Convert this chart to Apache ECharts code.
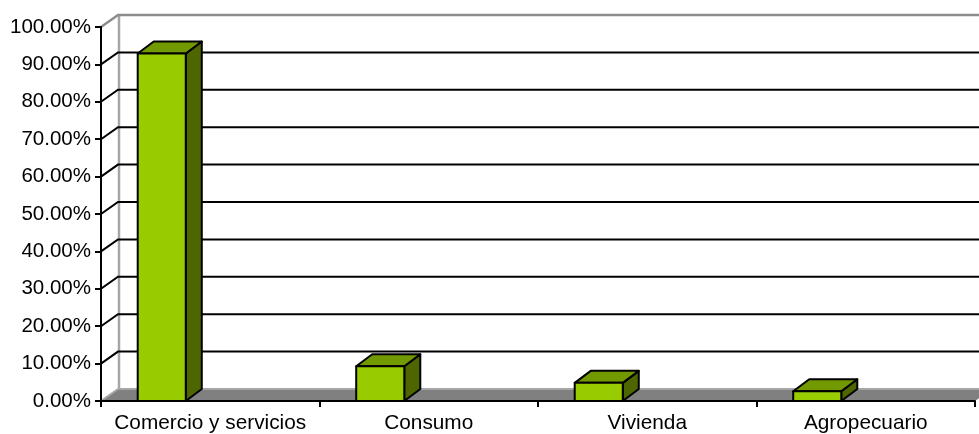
<!DOCTYPE html>
<html>
<head>
<meta charset="utf-8">
<script src="https://cdn.jsdelivr.net/npm/echarts@6/dist/echarts.min.js"></script>
<style>html,body{margin:0;padding:0;background:#fff;}#c{width:979px;height:434px;}</style>
</head>
<body>
<div id="c"></div>
<script>
const categories = ['Comercio y servicios', 'Consumo', 'Vivienda', 'Agropecuario'];
const values = [92.9, 9.3, 4.85, 2.6];
const yTicks = [0, 10, 20, 30, 40, 50, 60, 70, 80, 90, 100];

const DX = 17, DY = 12;       // wall/floor depth offset
const BDX = 16, BDY = 12;     // bar depth offset
const FONT = 'Liberation Sans, Arial, sans-serif';

const chart = echarts.init(document.getElementById('c'), null, {renderer: 'canvas'});

function wallItem(params, api) {
  const cs = params.coordSys;
  const v = api.value(0);
  const y = api.coord([0, v])[1];
  const x0 = cs.x, right = cs.x + cs.width;
  const children = [];
  if (v === 0) {
    children.push({type: 'polygon', shape: {points: [[x0, y], [x0 + DX, y - DY], [right + DX, y - DY], [right, y]]},
      style: {fill: '#808080', stroke: null}});
    children.push({type: 'line', shape: {x1: x0 + DX, y1: y - DY, x2: right + DX, y2: y - DY},
      style: {stroke: '#a6a6a6', lineWidth: 2}});
    children.push({type: 'line', shape: {x1: x0, y1: y, x2: x0 + DX, y2: y - DY},
      style: {stroke: '#a6a6a6', lineWidth: 2}});
    const yt = api.coord([0, 100])[1];
    children.push({type: 'line', shape: {x1: x0 + DX + 1, y1: y - DY, x2: x0 + DX + 1, y2: yt - DY},
      style: {stroke: '#a6a6a6', lineWidth: 2.5}});
  } else if (v === 100) {
    children.push({type: 'polyline', shape: {points: [[x0, y], [x0 + DX, y - DY], [right + DX, y - DY]]},
      style: {stroke: '#8c8c8c', lineWidth: 2.5, fill: null}});
  } else {
    children.push({type: 'polyline', shape: {points: [[x0, y], [x0 + DX, y - DY], [right + DX, y - DY]]},
      style: {stroke: '#000', lineWidth: 2, fill: null}});
  }
  return {type: 'group', children: children};
}

function barItem(params, api) {
  const i = api.value(0), v = api.value(1);
  const base = api.coord([i, 0]);
  const top = api.coord([i, v]);
  const band = api.size([1, 0])[0];
  const w = band * 0.22;
  const x1 = base[0] - band / 2 + band * 0.168;
  const ty = top[1], by = base[1];
  const ls = {stroke: '#000', lineWidth: 2, lineJoin: 'round'};
  return {type: 'group', children: [
    {type: 'polygon', shape: {points: [[x1 + w, ty], [x1 + w + BDX, ty - BDY], [x1 + w + BDX, by - BDY], [x1 + w, by]]},
      style: Object.assign({fill: '#4d6600'}, ls)},
    {type: 'polygon', shape: {points: [[x1, ty], [x1 + BDX, ty - BDY], [x1 + w + BDX, ty - BDY], [x1 + w, ty]]},
      style: Object.assign({fill: '#739900'}, ls)},
    {type: 'rect', shape: {x: x1, y: ty, width: w, height: by - ty},
      style: Object.assign({fill: '#99cc00'}, ls)}
  ]};
}

chart.setOption({
  animation: false,
  backgroundColor: '#fff',
  grid: {left: 101, right: 4, top: 27, bottom: 32, containLabel: false},
  xAxis: {
    type: 'category', data: categories, boundaryGap: true, z: 10,
    axisLine: {lineStyle: {color: '#000', width: 2}},
    axisTick: {show: true, interval: 0, length: 6, lineStyle: {color: '#000', width: 2}},
    axisLabel: {interval: 0, color: '#000', fontFamily: FONT, fontSize: 20.8, margin: 12},
    splitLine: {show: false}
  },
  yAxis: {
    type: 'value', min: 0, max: 100, interval: 10, z: 10,
    axisLine: {show: true, lineStyle: {color: '#000', width: 2}},
    axisTick: {show: true, length: 6, lineStyle: {color: '#000', width: 2}},
    axisLabel: {color: '#000', fontFamily: FONT, fontSize: 20.5, margin: 10,
      formatter: v => v.toFixed(2) + '%'},
    splitLine: {show: false}
  },
  series: [
    {type: 'custom', z: 1, silent: true, clip: false, renderItem: wallItem,
      data: yTicks.map(t => [t])},
    {type: 'custom', z: 3, clip: false, renderItem: barItem,
      data: values.map((v, i) => [i, v])}
  ]
});
</script>
</body>
</html>
